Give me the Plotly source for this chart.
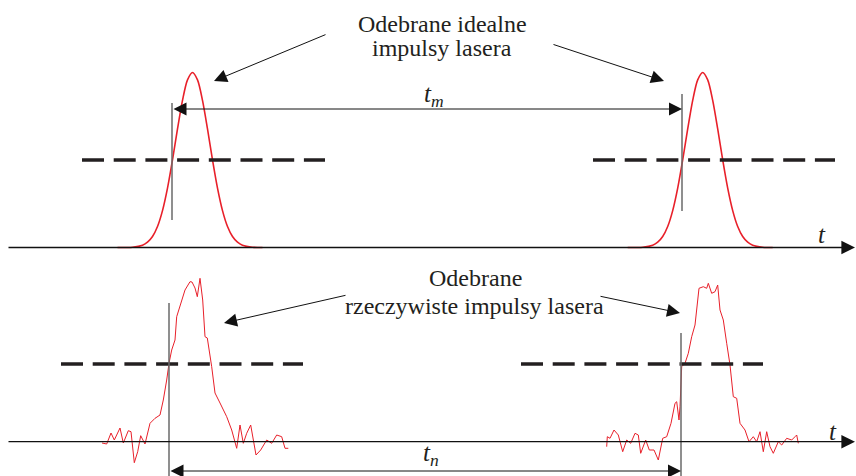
import plotly.graph_objects as go

# ---------------- data ----------------
# ideal (gaussian-like) received pulse: offset from pulse centre -> amplitude
pulse_centers = [192.5, 702.7]
ideal_offsets = [-75, -60, -50, -45, -40, -35, -30, -25, -20, -15, -10, -5, 0,
                 5, 10, 15, 20, 25, 30, 35, 40, 45, 50, 60, 70]
ideal_amp = [0, 0.3, 2.3, 5.3, 11.0, 21.0, 36.9, 59.4, 87.6, 118.6, 147.2, 167.6, 175,
             167.6, 147.2, 118.6, 87.6, 59.4, 36.9, 21.0, 11.0, 5.3, 2.3, 0.3, 0]

# real (noisy) received pulses
real1_t = [102, 106.7, 111, 114.3, 120, 123.3, 128.3, 131, 134.3, 137.7, 140.7, 145, 150, 155,
           160, 163.3, 166.7, 169, 171.7, 175, 176.7, 180, 185, 190, 192, 195, 197.3, 200, 202.7,
           205, 207.3, 211.7, 215, 220, 226.7, 231.7, 236.7, 240, 243.3, 246.7, 250.7, 256,
           260.7, 266.7, 271.7, 276.7, 281.7, 285, 288.3]
real1_a = [-1.3, -2.3, 8.7, 1.7, 13.7, -1.3, 11, 10, -21, -10, 6, -2.3, 18.4, 23.4,
           26.7, 41.7, 61.7, 78.4, 91.7, 101.7, 125, 135, 151.7, 160, 159.7, 153.7, 145, 163.4, 141.7,
           105, 103.7, 75, 48.7, 38.7, 25, 11.7, -6.6, 16.7, -1.6, 8.4, 16.7, -13.3,
           -8.3, 1.7, -1.6, 6.7, 5, -6.6, -6.6]

real2_t = [606.7, 607.3, 610, 614, 618.3, 622.7, 626.7, 630.7, 635, 638.3, 640.7, 645.7, 649.3,
           654, 658.3, 662.7, 666.7, 671, 675, 676.7, 679, 680, 681.7, 685, 688.3, 691.7, 695,
           697.7, 699, 703.3, 706.7, 708.3, 711.7, 715, 717.7, 720, 723.3, 726.7, 730, 733.3,
           736.7, 740, 745, 749, 753.3, 756.7, 760, 763.3, 766.7, 770, 773.3, 778.3, 781.7,
           786.7, 791.7, 795, 796.7, 798.3]
real2_a = [-5, 5, 3.4, 11.7, 6.7, -10, 1.7, -1.6, 8.4, 6.7, -11.6, 1.7, -8.3,
           -8.3, -18.3, 3.4, 5, 18.4, 38.4, 40, 21.7, 35, 75, 78.4, 88.4, 105, 116.7,
           138.4, 153.4, 155, 153.4, 158.4, 148.4, 150, 156.7, 131.7, 121.7, 98.4, 76.7, 45,
           43.4, 18.4, 11.7, 0, 5, 0, 10, -10, 10, -5, -11.6, 0, -3.3,
           3.4, 1.7, 5, 6.7, -1.6]

# thresholds
top_threshold = 87.5
bottom_threshold = 77.7
top_threshold_spans = [(82, 325), (593, 835)]
bottom_threshold_spans = [(61, 303), (521, 763)]

# trigger instants
top_triggers = [172, 682]
bottom_triggers = [169, 681]
top_trigger_y = [(144.5, 27.5), (153.5, 36.5)]
bottom_trigger_y = [(138.7, -34.3), (108.7, -34.3)]

# ---------------- figure ----------------
RED = "#e8202a"
DASH = "#231f20"
GREY = "#6a6a6a"

fig = go.Figure()

# ideal pulses (top, axis y)
for c in pulse_centers:
    fig.add_trace(go.Scatter(x=[c + o for o in ideal_offsets], y=ideal_amp, mode="lines",
                             line=dict(color=RED, width=1.6, shape="spline", smoothing=0.8),
                             yaxis="y", hoverinfo="skip"))

# noisy pulses (bottom, axis y2)
for t, a in [(real1_t, real1_a), (real2_t, real2_a)]:
    fig.add_trace(go.Scatter(x=t, y=a, mode="lines", line=dict(color=RED, width=1.0),
                             yaxis="y2", hoverinfo="skip"))

# threshold dashed lines
tx, ty = [], []
for a, b in top_threshold_spans:
    tx += [a, b, None]
    ty += [top_threshold, top_threshold, None]
fig.add_trace(go.Scatter(x=tx, y=ty, mode="lines", yaxis="y",
                         line=dict(color=DASH, width=3.6, dash="22px,9.7px"), hoverinfo="skip"))
bx, by = [], []
for a, b in bottom_threshold_spans:
    bx += [a, b, None]
    by += [bottom_threshold, bottom_threshold, None]
fig.add_trace(go.Scatter(x=bx, y=by, mode="lines", yaxis="y2",
                         line=dict(color=DASH, width=3.6, dash="22px,9.7px"), hoverinfo="skip"))

# trigger vertical lines
vx, vy = [], []
for x, (y0, y1) in zip(top_triggers, top_trigger_y):
    vx += [x, x, None]
    vy += [y0, y1, None]
fig.add_trace(go.Scatter(x=vx, y=vy, mode="lines", yaxis="y",
                         line=dict(color=GREY, width=1.5), hoverinfo="skip"))
wx, wy = [], []
for x, (y0, y1) in zip(bottom_triggers, bottom_trigger_y):
    wx += [x, x, None]
    wy += [y0, y1, None]
fig.add_trace(go.Scatter(x=wx, y=wy, mode="lines", yaxis="y2",
                         line=dict(color=GREY, width=1.5), hoverinfo="skip"))

ann = []
FONT = "Liberation Serif"


def arrow(x, y, ax, ay, yref, side="end", width=1.0, size=2.6):
    ann.append(dict(x=x, y=y, ax=ax, ay=ay, xref="x", yref=yref, axref="x", ayref=yref,
                    showarrow=True, arrowhead=2, arrowside=side, arrowsize=size,
                    arrowwidth=width, arrowcolor="#111", standoff=0, startstandoff=0, text=""))


def label(x, y, text, yref, size=24):
    ann.append(dict(x=x, y=y, xref="x", yref=yref, text=text, showarrow=False,
                    font=dict(family=FONT, size=size, color="#231f20"),
                    xanchor="center", yanchor="middle"))


# time axes with arrows
arrow(855, 0, 7, 0, "y", width=1.3, size=2.1)
arrow(855, 0, 7, 0, "y2", width=1.3, size=2.1)

# measured intervals
arrow(top_triggers[1], 138.5, top_triggers[0], 138.5, "y", side="end+start")
arrow(bottom_triggers[1], -29.3, bottom_triggers[0], -29.3, "y2", side="end+start")

# pointer arrows
arrow(214, 247.5 - 81, 327, 247.5 - 34, "y")
arrow(664, 247.5 - 81, 552, 247.5 - 44, "y")
arrow(224, 441.7 - 323, 347, 441.7 - 295, "y2")
arrow(680, 441.7 - 313, 599, 441.7 - 296, "y2")

# texts
label(442, 247.5 - 24, "Odebrane idealne", "y")
label(442, 247.5 - 48, "impulsy lasera", "y")
label(475, 441.7 - 278, "Odebrane", "y2")
label(474, 441.7 - 306, "rzeczywiste impulsy lasera", "y2")
label(434, 247.5 - 95, "<i>t</i><sub><i>m</i></sub>", "y", size=25)
label(431, 441.7 - 454, "<i>t</i><sub><i>n</i></sub>", "y2", size=25)
label(822, 247.5 - 234, "<i>t</i>", "y", size=25)
label(833, 441.7 - 431, "<i>t</i>", "y2", size=25)

fig.update_layout(
    width=856, height=476,
    margin=dict(l=0, r=0, t=0, b=0),
    paper_bgcolor="white", plot_bgcolor="white",
    showlegend=False,
    xaxis=dict(range=[0, 856], visible=False, fixedrange=True),
    yaxis=dict(range=[-228.5, 247.5], visible=False, fixedrange=True),
    yaxis2=dict(range=[-34.3, 441.7], visible=False, overlaying="y", fixedrange=True),
    annotations=ann,
)

fig.write_html("out.html")
